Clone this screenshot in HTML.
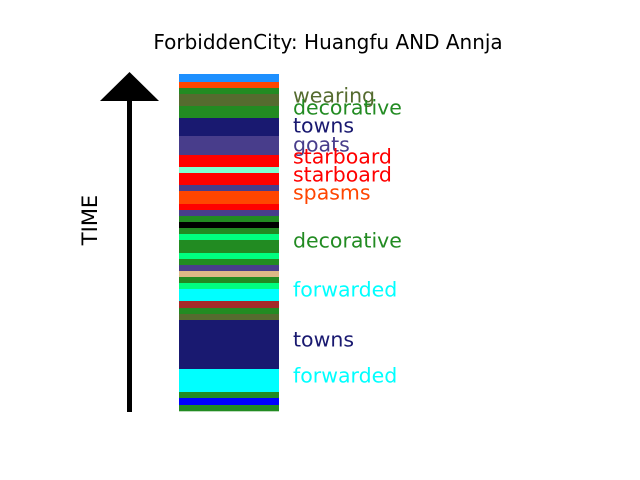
<!DOCTYPE html>
<html><head><meta charset="utf-8"><style>
body{margin:0;background:#fff;}
svg{display:block;font-family:"DejaVu Sans","Liberation Sans",sans-serif;}
</style></head><body>
<svg id="chart" width="640" height="480">
<rect width="640" height="480" fill="#fff"/>
<text x="328" y="49" font-size="20" text-anchor="middle">ForbiddenCity: Huangfu AND Annja</text>
<rect x="127" y="99" width="5" height="313" fill="#000"/>
<polygon points="100,101 129.5,72 159,101" fill="#000"/>
<text x="0" y="0" font-size="21" text-anchor="middle" transform="translate(97,220) rotate(-90)">TIME</text>
<g id="stripes"></g>
<g id="labels"></g>
</svg>
<script>
const segColors = ["dodgerblue","orangered","forestgreen","darkolivegreen","forestgreen","midnightblue","darkslateblue","red","aquamarine","red","darkslateblue","orangered","red","darkslateblue","forestgreen","black","forestgreen","springgreen","forestgreen","springgreen","forestgreen","darkslateblue","burlywood","forestgreen","springgreen","cyan","brown","forestgreen","darkolivegreen","midnightblue","cyan","forestgreen","blue","forestgreen"];
const segDurations = [8,6,6,12,12,18,19,12,6,12,6,13,6,6,6,6,6,6,13,6,6,6,6,6,6,12,7,6,6,49,23,6,7,6];
const labelTexts = ["wearing","decorative","towns","goats","starboard","starboard","spasms","decorative","forwarded","towns","forwarded"];
const labelColors = ["darkolivegreen","forestgreen","midnightblue","darkslateblue","red","red","orangered","forestgreen","cyan","midnightblue","cyan"];
const labelTimes = [22,34,52,71,83,101,119,167,216,266,302];

const NS="http://www.w3.org/2000/svg";
const total = segDurations.reduce((a,b)=>a+b,0);
const y0=74, y1=411;
function yScale(t){return y0 + t/total*(y1-y0);}
const sg=document.getElementById('stripes');
let t=0;
segDurations.forEach((d,i)=>{
  const r=document.createElementNS(NS,'rect');
  r.setAttribute('x',179);r.setAttribute('width',100);
  r.setAttribute('y',yScale(t));r.setAttribute('height',yScale(t+d)-yScale(t)+0.3);
  r.setAttribute('fill',segColors[i]);
  
  
  sg.appendChild(r);
  t+=d;
});
const lg=document.getElementById('labels');
labelTexts.forEach((s,i)=>{
  const tx=document.createElementNS(NS,'text');
  tx.setAttribute('x',293);tx.setAttribute('y',yScale(labelTimes[i])+6.5);
  tx.setAttribute('font-size',20.5);tx.setAttribute('fill',labelColors[i]);
  tx.textContent=s;
  
  
  lg.appendChild(tx);
});
</script>
</body></html>
